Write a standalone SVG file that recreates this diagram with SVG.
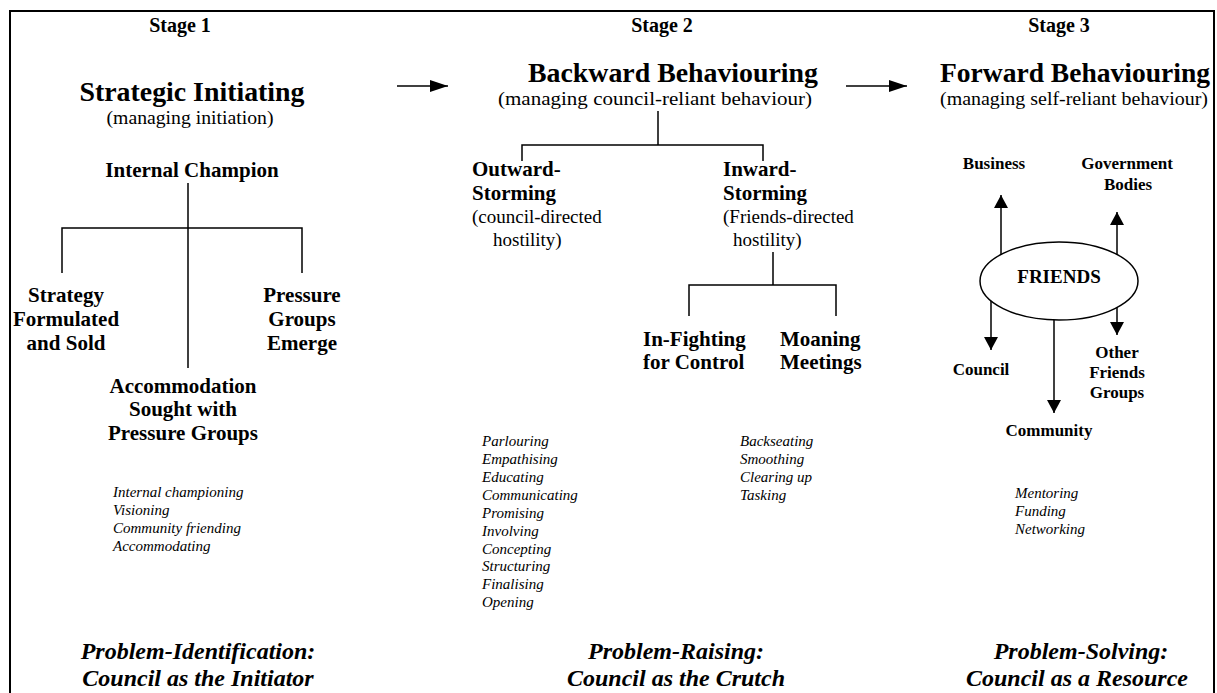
<svg xmlns="http://www.w3.org/2000/svg" width="1217" height="693" viewBox="0 0 1217 693">
<style>
text{font-family:"Liberation Serif","Times New Roman",serif;fill:#000}
.stage{font-size:20px;font-weight:bold;text-anchor:middle}
.title{font-size:27px;font-weight:bold;text-anchor:middle}
.sub{font-size:19px;text-anchor:middle}
.lbl{font-size:21px;font-weight:bold;text-anchor:middle}
.lbll{font-size:21px;font-weight:bold}
.reg{font-size:19px}
.s3{font-size:17px;font-weight:bold;text-anchor:middle}
.it{font-size:15px;font-style:italic}
.bot{font-size:24px;font-weight:bold;font-style:italic;text-anchor:middle}
.ln{stroke:#000;stroke-width:1.5;fill:none}
</style>
<defs>
<marker id="ah" markerUnits="userSpaceOnUse" markerWidth="18" markerHeight="12" refX="18" refY="6" orient="auto"><path d="M0,0 L18,6 L0,12 Z" fill="#000"/></marker>
<marker id="ah2" markerUnits="userSpaceOnUse" markerWidth="13" markerHeight="14" refX="13" refY="7" orient="auto"><path d="M0,0 L13,7 L0,14 Z" fill="#000"/></marker>
</defs>
<rect x="10" y="11" width="1204" height="700" fill="none" stroke="#000" stroke-width="2"/>

<g id="stage1">
<text class="stage" x="180" y="32">Stage 1</text>
<text class="title" x="192" y="101" textLength="225" lengthAdjust="spacingAndGlyphs">Strategic Initiating</text>
<text class="sub" x="190" y="124" textLength="167" lengthAdjust="spacingAndGlyphs">(managing initiation)</text>
</g>
<g id="internal-champion"><text class="lbl" x="192" y="177">Internal Champion</text></g>
<g id="strategy"><text class="lbl" x="66" y="302">Strategy</text><text class="lbl" x="66" y="326">Formulated</text><text class="lbl" x="66" y="350">and Sold</text></g>
<g id="pressure"><text class="lbl" x="302" y="302">Pressure</text><text class="lbl" x="302" y="326">Groups</text><text class="lbl" x="302" y="350">Emerge</text></g>
<g id="accommodation"><text class="lbl" x="183" y="393">Accommodation</text><text class="lbl" x="183" y="416">Sought with</text><text class="lbl" x="183" y="440">Pressure Groups</text></g>
<g id="list1"><text class="it" x="113" y="497">Internal championing</text><text class="it" x="113" y="515">Visioning</text><text class="it" x="113" y="533">Community friending</text><text class="it" x="113" y="551">Accommodating</text></g>

<g id="stage2">
<text class="stage" x="662" y="32">Stage 2</text>
<text class="title" x="673" y="82" textLength="290" lengthAdjust="spacingAndGlyphs">Backward Behaviouring</text>
<text class="sub" x="655" y="105" textLength="314" lengthAdjust="spacingAndGlyphs">(managing council-reliant behaviour)</text>
</g>
<g id="outward"><text class="lbll" x="472" y="176">Outward-</text><text class="lbll" x="472" y="200">Storming</text><text class="reg" x="472" y="223">(council-directed</text><text class="reg" x="493" y="246">hostility)</text></g>
<g id="inward"><text class="lbll" x="723" y="176">Inward-</text><text class="lbll" x="723" y="200">Storming</text><text class="reg" x="723" y="223">(Friends-directed</text><text class="reg" x="733" y="246">hostility)</text></g>
<g id="infighting"><text class="lbll" x="643" y="346">In-Fighting</text><text class="lbll" x="643" y="369">for Control</text></g>
<g id="moaning"><text class="lbll" x="780" y="346">Moaning</text><text class="lbll" x="780" y="369">Meetings</text></g>
<g id="list2a"><text class="it" x="482" y="446">Parlouring</text><text class="it" x="482" y="464">Empathising</text><text class="it" x="482" y="482">Educating</text><text class="it" x="482" y="500">Communicating</text><text class="it" x="482" y="518">Promising</text><text class="it" x="482" y="536">Involving</text><text class="it" x="482" y="554">Concepting</text><text class="it" x="482" y="571">Structuring</text><text class="it" x="482" y="589">Finalising</text><text class="it" x="482" y="607">Opening</text></g>
<g id="list2b"><text class="it" x="740" y="446">Backseating</text><text class="it" x="740" y="464">Smoothing</text><text class="it" x="740" y="482">Clearing up</text><text class="it" x="740" y="500">Tasking</text></g>

<g id="stage3">
<text class="stage" x="1059" y="32">Stage 3</text>
<text class="title" x="1075" y="82" textLength="270" lengthAdjust="spacingAndGlyphs">Forward Behaviouring</text>
<text class="sub" x="1074" y="105" textLength="268" lengthAdjust="spacingAndGlyphs">(managing self-reliant behaviour)</text>
</g>
<g id="business"><text class="s3" x="994" y="169">Business</text></g>
<g id="government"><text class="s3" x="1127" y="169">Government</text><text class="s3" x="1128" y="190">Bodies</text></g>
<g id="friends"><ellipse cx="1059" cy="281" rx="79" ry="39" class="ln"/><text x="1059" y="283" style="font-size:19px;font-weight:bold;text-anchor:middle">FRIENDS</text></g>
<g id="council"><text class="s3" x="981" y="375">Council</text></g>
<g id="other"><text class="s3" x="1117" y="358">Other</text><text class="s3" x="1117" y="378">Friends</text><text class="s3" x="1117" y="398">Groups</text></g>
<g id="community"><text class="s3" x="1049" y="436">Community</text></g>
<g id="list3"><text class="it" x="1015" y="498">Mentoring</text><text class="it" x="1015" y="516">Funding</text><text class="it" x="1015" y="534">Networking</text></g>

<g id="captions">
<text class="bot" x="198" y="659">Problem-Identification:</text>
<text class="bot" x="198" y="686">Council as the Initiator</text>
<text class="bot" x="676" y="659">Problem-Raising:</text>
<text class="bot" x="676" y="686">Council as the Crutch</text>
<text class="bot" x="1081" y="659">Problem-Solving:</text>
<text class="bot" x="1077" y="686">Council as a Resource</text>
</g>

<g id="connectors">
<path class="ln" d="M397,86 H448" marker-end="url(#ah)"/>
<path class="ln" d="M846,86 H907" marker-end="url(#ah)"/>
<path class="ln" d="M188,183 V368 M62,273 V228 H302 V273"/>
<path class="ln" d="M658,111 V145 M522,161 V145 H763 V161"/>
<path class="ln" d="M773,252 V285 M689,316 V285 H836 V316"/>
<path class="ln" d="M1001,255 V195" marker-end="url(#ah2)"/>
<path class="ln" d="M1117,255 V212" marker-end="url(#ah2)"/>
<path class="ln" d="M991,301 V350" marker-end="url(#ah2)"/>
<path class="ln" d="M1054,320 V413" marker-end="url(#ah2)"/>
<path class="ln" d="M1117,307 V335" marker-end="url(#ah2)"/>
</g>
</svg>
